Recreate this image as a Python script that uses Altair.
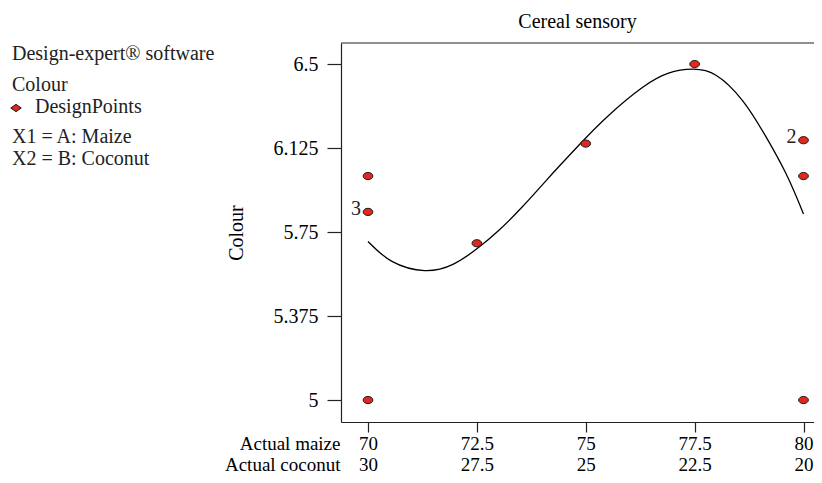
import altair as alt
import pandas as pd

# ---- data ----
maize = [70, 70, 70, 72.5, 75, 77.5, 80, 80, 80]
colour = [6.0, 5.84, 5.0, 5.70, 6.145, 6.50, 6.16, 6.0, 5.0]

rep_maize = [70, 80]
rep_colour = [5.84, 6.16]
rep_labels = ["3", "2"]

curve_maize = [70, 70.55, 71.3, 71.95, 72.5, 73, 73.55, 74.1, 74.4, 74.95,
               75.55, 76.3, 76.9, 77.45, 78, 78.6, 79.1, 79.6, 80]
curve_colour = [5.708, 5.619, 5.578, 5.606, 5.675, 5.757, 5.864, 5.982, 6.046,
                6.160, 6.275, 6.395, 6.459, 6.477, 6.449, 6.337, 6.188, 6.01, 5.831]

maize_ticks = [70, 72.5, 75, 77.5, 80]
coconut_ticks = [30, 27.5, 25, 22.5, 20]
colour_ticks = [5, 5.375, 5.75, 6.125, 6.5]

legend_lines = ["Design-expert\u00ae software", "Colour", "DesignPoints",
                "X1 = A: Maize", "X2 = B: Coconut"]

FONT = "Liberation Serif"
FS = 20
FSX = 19
INK = "#222222"
W, H = 473, 379

def fmt(v):
    return f"{v:g}"

label_expr = "datum.label"
for m, c in reversed(list(zip(maize_ticks, coconut_ticks))):
    label_expr = f"datum.value == {fmt(m)} ? ['{fmt(m)}', '{fmt(c)}'] : " + label_expr

pts = pd.DataFrame({"maize": maize, "colour": colour})
reps = pd.DataFrame({"maize": rep_maize, "colour": rep_colour, "lab": rep_labels})
curve = pd.DataFrame({"maize": curve_maize, "colour": curve_colour})

xscale = alt.Scale(domain=[69.38, 80.241], nice=False, zero=False)
yscale = alt.Scale(domain=[4.902, 6.594], nice=False, zero=False)

xaxis = alt.Axis(values=maize_ticks, labelExpr=label_expr, grid=False,
                 tickSize=10, labelPadding=2, labelLineHeight=21,
                 labelFontSize=FSX, labelFont=FONT, labelColor="black",
                 labelOverlap=False, labelFlush=False, labelBound=False,
                 title=["Actual maize", "Actual coconut"], titleFont=FONT,
                 titleFontSize=FSX, titleFontWeight="normal", titleColor="black",
                 titleLineHeight=21, titleAlign="right", titleBaseline="top",
                 titleX=-1, titleY=12)
yaxis = alt.Axis(values=colour_ticks, format=".4~f", grid=False,
                 tickSize=14, labelPadding=9, labelFontSize=FS, labelFont=FONT,
                 labelColor="black", labelOverlap=False, labelFlush=False,
                 title="Colour", titleFont=FONT, titleFontSize=FS,
                 titleFontWeight="normal", titleColor="black",
                 titleAngle=270, titleAlign="center", titleBaseline="middle",
                 titleX=-105, titleY=H / 2)

ellipse = "M-1,0A1,0.74,0,1,0,1,0A1,0.74,0,1,0,-1,0Z"
diamond = "M-1,0L0,-0.7L1,0L0,0.7Z"

line = alt.Chart(curve).mark_line(color="black", strokeWidth=1.3,
                                  interpolate="natural").encode(
    x=alt.X("maize:Q", scale=xscale, axis=xaxis),
    y=alt.Y("colour:Q", scale=yscale, axis=yaxis),
)

points = alt.Chart(pts).mark_point(shape=ellipse, size=95, filled=True,
                                   fill="#e0281c", stroke="#1a1a1a",
                                   strokeWidth=1, opacity=1).encode(
    x="maize:Q", y="colour:Q")

replabels = alt.Chart(reps).mark_text(font=FONT, fontSize=FS, color=INK,
                                      align="right", baseline="middle",
                                      dx=-7, dy=-3).encode(
    x="maize:Q", y="colour:Q", text="lab:N")

top_border = alt.Chart(pd.DataFrame({"k": [0]})).mark_rule(
    color=INK, strokeWidth=1.2).encode(
    x=alt.value(0), x2=alt.value(W), y=alt.value(0))

legend_y = [11, 42, 64, 94, 116]
legend_x = [-329, -329, -306, -329, -329]
legend_layers = []
for txt, lx, ly in zip(legend_lines, legend_x, legend_y):
    legend_layers.append(
        alt.Chart(pd.DataFrame({"t": [txt]})).mark_text(
            font=FONT, fontSize=FS, color=INK, align="left",
            baseline="middle").encode(
            x=alt.value(lx), y=alt.value(ly), text="t:N"))

legend_symbol = alt.Chart(pd.DataFrame({"k": [0]})).mark_point(
    shape=diamond, size=110, filled=True, fill="#e0281c", stroke="#1a1a1a",
    strokeWidth=1, opacity=1).encode(x=alt.value(-325), y=alt.value(65))

chart = alt.layer(line, points, replabels, top_border, legend_symbol,
                  *legend_layers).properties(
    width=W, height=H,
    title=alt.TitleParams("Cereal sensory", font=FONT, fontSize=FS,
                          fontWeight="normal", color="black", offset=10,
                          anchor="middle"),
    autosize=alt.AutoSizeParams(type="none"),
    padding={"left": 333, "top": 35, "right": 0, "bottom": 53},
).configure_view(stroke=None).configure_axis(
    domainColor=INK, tickColor=INK, domainWidth=1.2, tickWidth=1.2)

chart.save("out.html", embed_options={"renderer": "svg", "actions": False})
